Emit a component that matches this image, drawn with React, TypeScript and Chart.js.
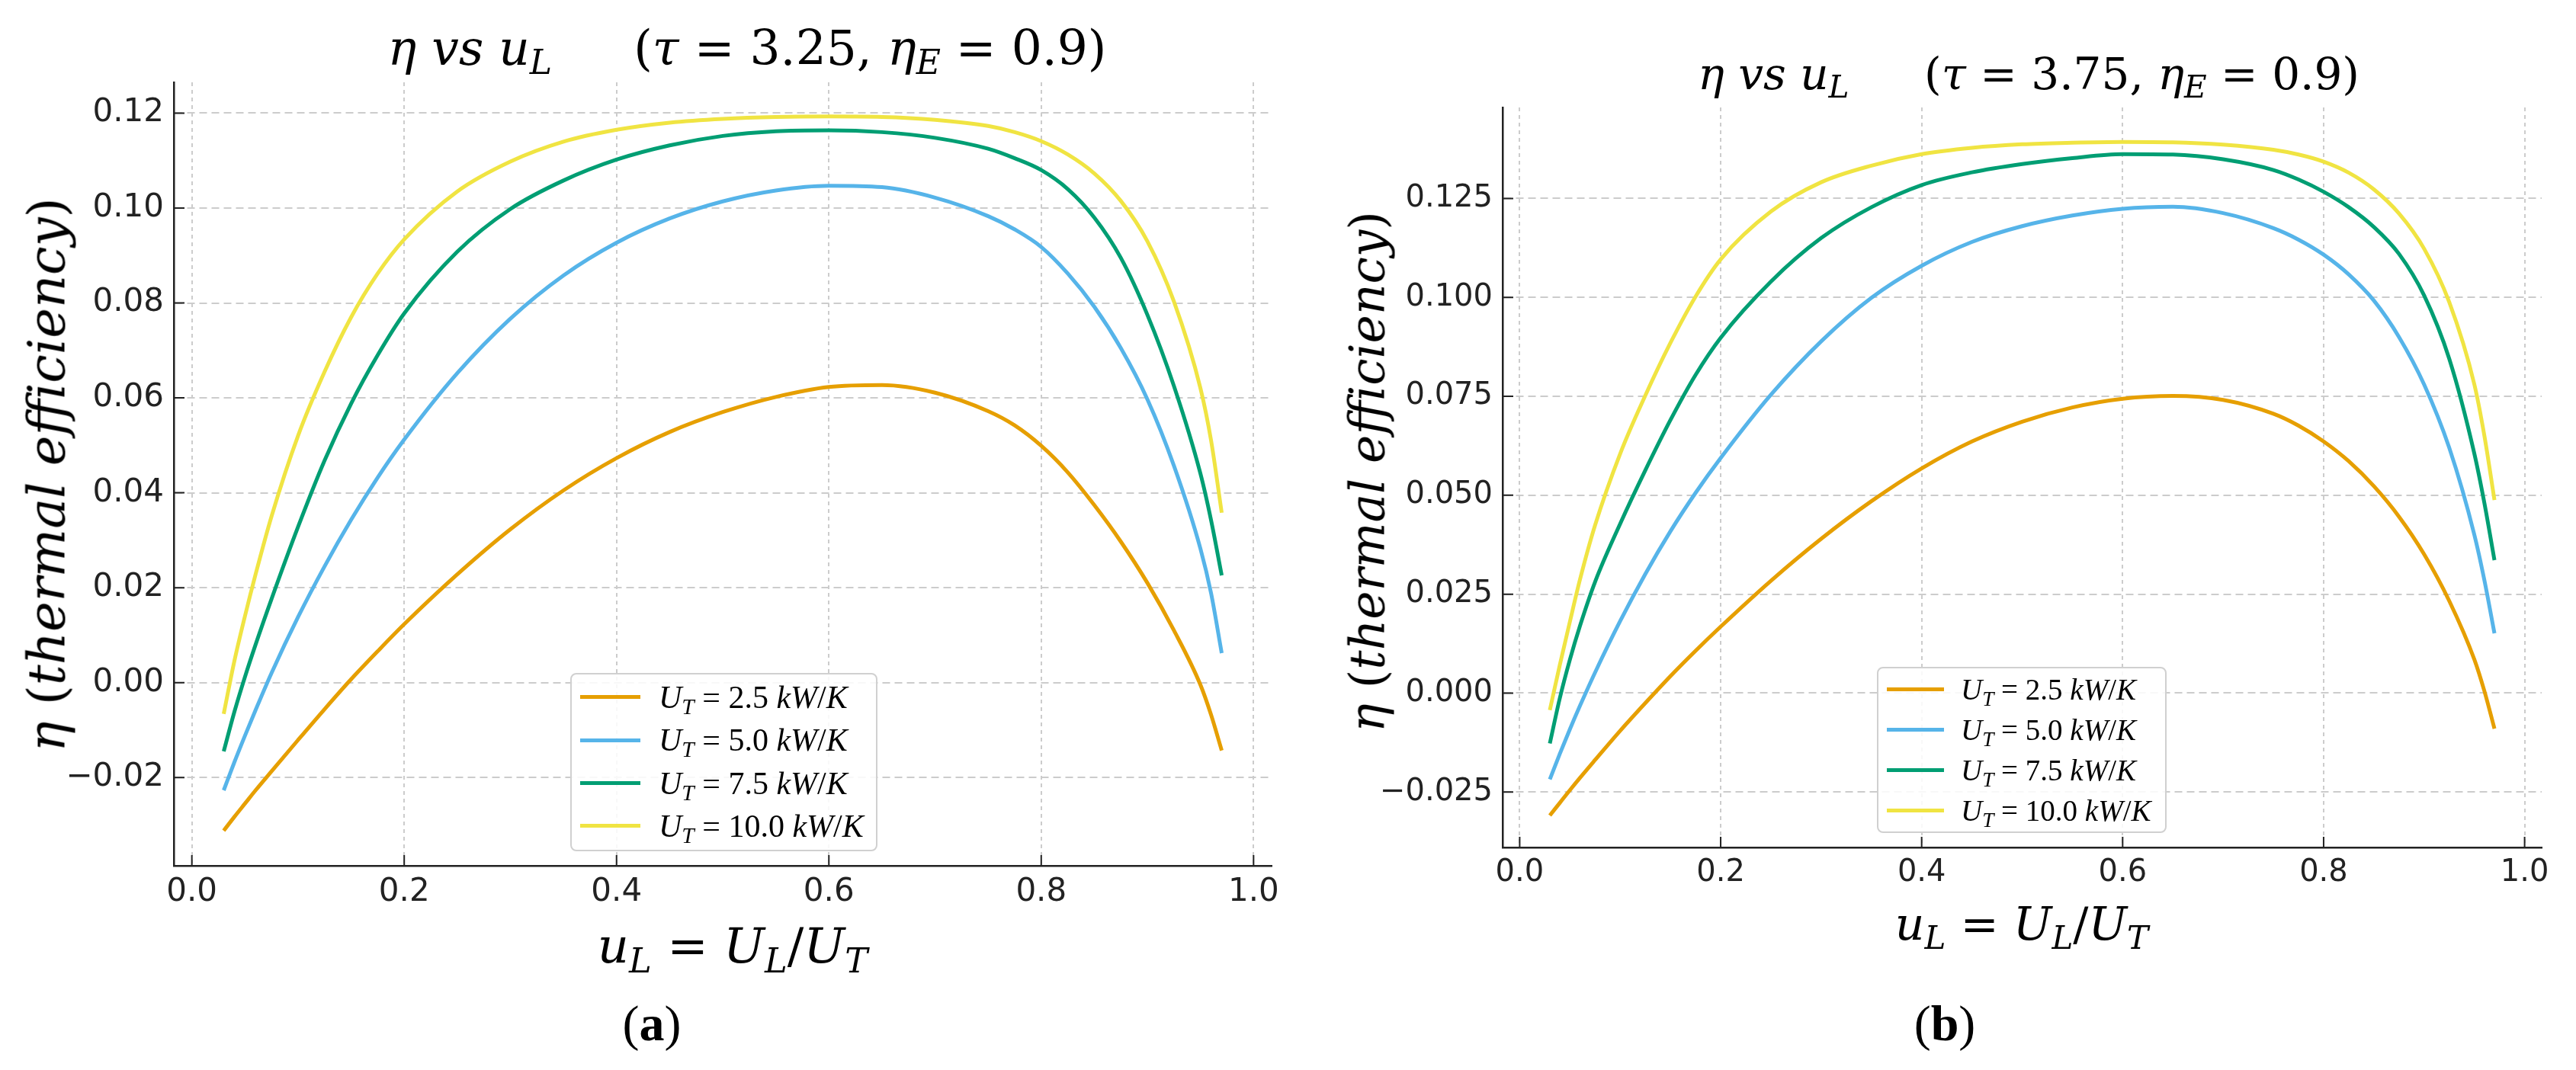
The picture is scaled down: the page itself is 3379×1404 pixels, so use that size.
import { useEffect, useRef } from "react"
import Chart from "chart.js/auto"

// u_L = U_L / U_T sample points (shared by every curve)
const U_L = [
  0.03, 0.04, 0.05, 0.06, 0.075, 0.1, 0.125, 0.15, 0.175, 0.2, 0.25, 0.3, 0.35, 0.4, 0.45, 0.5,
  0.55, 0.6, 0.65, 0.7, 0.75, 0.775, 0.8, 0.825, 0.85, 0.875, 0.9, 0.925, 0.95, 0.96, 0.97,
]

const UT_VALUES = ["2.5", "5.0", "7.5", "10.0"]

// panel (a): tau = 3.25
const ETA_A_25 = [
  -0.0312, -0.0283, -0.0255, -0.0227, -0.0187, -0.0121, -0.0056, 0.0007, 0.0066, 0.0123, 0.0228,
  0.0323, 0.0405, 0.0473, 0.0528, 0.057, 0.0602, 0.0623, 0.0627, 0.0611, 0.0572, 0.0542, 0.0499,
  0.0443, 0.0374, 0.0297, 0.021, 0.011, -0.0005, -0.0068, -0.0143,
]
const ETA_A_50 = [
  -0.0227, -0.0168, -0.0112, -0.0058, 0.002, 0.0138, 0.0245, 0.0343, 0.0432, 0.0512, 0.0652,
  0.0767, 0.0858, 0.0927, 0.0978, 0.1014, 0.1037, 0.1047, 0.1044, 0.1022, 0.0983, 0.0955, 0.0918,
  0.0862, 0.0792, 0.0705, 0.0597, 0.0457, 0.0282, 0.0188, 0.0062,
]
const ETA_A_75 = [
  -0.0145, -0.0062, 0.0012, 0.008, 0.0176, 0.0328, 0.0468, 0.0588, 0.069, 0.0778, 0.0908, 0.0998,
  0.1058, 0.1102, 0.1132, 0.1152, 0.1162, 0.1164, 0.116, 0.1148, 0.1125, 0.1105, 0.108, 0.104,
  0.098, 0.0895, 0.0775, 0.0625, 0.044, 0.0342, 0.0226,
]
const ETA_A_100 = [
  -0.0066, 0.0045, 0.014, 0.0228, 0.035, 0.052, 0.0655, 0.077, 0.0862, 0.0934, 0.1035, 0.1098,
  0.114, 0.1165, 0.118, 0.1188, 0.1192, 0.1193, 0.1192, 0.1186, 0.1173, 0.116, 0.1141, 0.1113,
  0.1073, 0.1015, 0.093, 0.0803, 0.062, 0.051, 0.0358,
]

// panel (b): tau = 3.75
const ETA_B_25 = [
  -0.0309, -0.0277, -0.0245, -0.0214, -0.0169, -0.0095, -0.0025, 0.0043, 0.0107, 0.0168, 0.0284,
  0.039, 0.0485, 0.0568, 0.0636, 0.0686, 0.0722, 0.0744, 0.0751, 0.0741, 0.0706, 0.0676, 0.0636,
  0.0586, 0.0523, 0.0446, 0.0351, 0.0233, 0.0085, 0.0005, -0.009,
]
const ETA_B_50 = [
  -0.0218, -0.0153, -0.0091, -0.0032, 0.0052, 0.0182, 0.0301, 0.0409, 0.0506, 0.0594, 0.0754,
  0.0889, 0.0999, 0.108, 0.114, 0.118, 0.1207, 0.1224, 0.1229, 0.1213, 0.1175, 0.1146, 0.1108,
  0.1058, 0.0992, 0.09, 0.078, 0.062, 0.04, 0.0285, 0.0151,
]
const ETA_B_75 = [
  -0.0127, -0.0012, 0.0085, 0.017, 0.0281, 0.0428, 0.0563, 0.069, 0.0804, 0.0898, 0.104, 0.115,
  0.1228, 0.1284, 0.1316, 0.1337, 0.1352, 0.1362, 0.1361, 0.1349, 0.1322, 0.1298, 0.1267, 0.1228,
  0.1178, 0.111, 0.1005, 0.0845, 0.0605, 0.048, 0.0336,
]
const ETA_B_100 = [
  -0.0043, 0.0072, 0.0181, 0.0287, 0.0424, 0.0605, 0.0752, 0.0885, 0.1002, 0.1096, 0.1217,
  0.1291, 0.1333, 0.1362, 0.1378, 0.1387, 0.1391, 0.1393, 0.1392, 0.1386, 0.1373, 0.1361, 0.1343,
  0.1315, 0.1273, 0.1212, 0.1123, 0.0988, 0.078, 0.065, 0.0488,
]

const X_TICKS = [0, 0.2, 0.4, 0.6, 0.8, 1.0]
const Y_TICKS_A = [-0.02, 0, 0.02, 0.04, 0.06, 0.08, 0.1, 0.12]
const Y_TICKS_B = [-0.025, 0, 0.025, 0.05, 0.075, 0.1, 0.125]

const COLORS = ["#E69F00", "#56B4E9", "#009E73", "#F0E442"]
const MATH_FONT = "'DejaVu Serif', serif"

function fmt(v: number, digits: number) {
  const s = Math.abs(v).toFixed(digits)
  return v < -1e-9 ? "\u2212" + s : s
}

// matplotlib-style ticks pointing into the plot
const inwardTicks = {
  id: "inwardTicks",
  afterDraw(chart: any) {
    const { ctx, chartArea, scales } = chart
    ctx.save()
    ctx.strokeStyle = "#222"
    ctx.lineWidth = 2
    ctx.beginPath()
    scales.x.ticks.forEach((t: any) => {
      const px = scales.x.getPixelForValue(t.value)
      ctx.moveTo(px, chartArea.bottom)
      ctx.lineTo(px, chartArea.bottom - 14)
    })
    scales.y.ticks.forEach((t: any) => {
      const py = scales.y.getPixelForValue(t.value)
      ctx.moveTo(chartArea.left, py)
      ctx.lineTo(chartArea.left + 14, py)
    })
    ctx.stroke()
    ctx.restore()
  },
}

type PanelProps = {
  series: number[][]
  yMin: number
  yMax: number
  yTicks: number[]
  yDigits: number
  left: number
  width: number
  height: number
  padTop: number
  padRight: number
  yAxisWidth: number
  xAxisHeight: number
  tickSize: number
}

function EfficiencyPanel(p: PanelProps) {
  const chartRef = useRef<HTMLCanvasElement>(null)

  useEffect(() => {
    if (!chartRef.current) return
    const tickFont = { family: "'DejaVu Sans', sans-serif", size: p.tickSize }

    const chart = new Chart(chartRef.current, {
      type: "line",
      data: {
        datasets: p.series.map((values, i) => ({
          label: `U_T = ${UT_VALUES[i]} kW/K`,
          data: U_L.map((x, j) => ({ x, y: values[j] })),
          borderColor: COLORS[i],
          borderWidth: 5,
          pointRadius: 0,
          fill: false,
          cubicInterpolationMode: "monotone" as const,
          order: p.series.length - i,
        })),
      },
      options: {
        responsive: false,
        animation: false,
        devicePixelRatio: 1,
        layout: { padding: { left: 0, top: p.padTop, right: p.padRight, bottom: 0 } },
        plugins: {
          legend: { display: false },
          tooltip: { enabled: false },
        },
        scales: {
          x: {
            type: "linear",
            min: -0.017,
            max: 1.017,
            afterBuildTicks: (axis: any) => {
              axis.ticks = X_TICKS.map((value) => ({ value }))
            },
            afterFit: (axis: any) => {
              axis.height = p.xAxisHeight
            },
            ticks: {
              callback: (v: any) => fmt(Number(v), 1),
              font: tickFont,
              color: "#222",
              padding: 10,
              maxRotation: 0,
              autoSkip: false,
            },
            grid: { color: "#cccccc", lineWidth: 2, drawTicks: false },
            border: { display: true, color: "#222", width: 2.5, dash: [5, 5] },
          },
          y: {
            type: "linear",
            min: p.yMin,
            max: p.yMax,
            afterBuildTicks: (axis: any) => {
              axis.ticks = p.yTicks.map((value) => ({ value }))
            },
            afterFit: (axis: any) => {
              axis.width = p.yAxisWidth
            },
            ticks: {
              callback: (v: any) => fmt(Number(v), p.yDigits),
              font: tickFont,
              color: "#222",
              padding: 13,
              autoSkip: false,
            },
            grid: { color: "#cccccc", lineWidth: 2, drawTicks: false },
            border: { display: true, color: "#222", width: 2.5, dash: [10, 6] },
          },
        },
      },
      plugins: [inwardTicks],
    })

    return () => {
      chart.destroy()
    }
  }, [])

  return (
    <canvas
      ref={chartRef}
      width={p.width}
      height={p.height}
      style={{ position: "absolute", left: p.left, top: 0, width: p.width, height: p.height }}
    />
  )
}

const Sub = ({ children }: { children: any }) => (
  <span style={{ fontSize: "0.7em", verticalAlign: "-0.28em", lineHeight: 0 }}>{children}</span>
)
const I = ({ children }: { children: any }) => <span style={{ fontStyle: "italic" }}>{children}</span>

function Legend(props: {
  left: number
  top: number
  width: number
  height: number
  firstRow: number
  rowGap: number
  lineLen: number
  textLeft: number
  fontSize: number
}) {
  return (
    <div
      style={{
        position: "absolute",
        left: props.left,
        top: props.top,
        width: props.width,
        height: props.height,
        boxSizing: "border-box",
        border: "2px solid #d0d0d0",
        borderRadius: 8,
        background: "rgba(255,255,255,0.85)",
        fontFamily: "'Liberation Serif', serif",
        fontSize: props.fontSize,
      }}
    >
      {UT_VALUES.map((v, i) => (
        <div
          key={v}
          style={{
            position: "absolute",
            left: 0,
            top: props.firstRow + i * props.rowGap - props.rowGap / 2,
            height: props.rowGap,
            width: "100%",
            display: "flex",
            alignItems: "center",
            lineHeight: 1,
            whiteSpace: "nowrap",
          }}
        >
          <div
            style={{
              position: "absolute",
              left: 11,
              width: props.lineLen,
              height: 5,
              background: COLORS[i],
            }}
          />
          <span style={{ position: "absolute", left: props.textLeft }}>
            <I>U</I>
            <Sub>
              <I>T</I>
            </Sub>{" "}
            = {v} <I>kW</I>/<I>K</I>
          </span>
        </div>
      ))}
    </div>
  )
}

function Title({ center, top, size, tau }: { center: number; top: number; size: number; tau: string }) {
  return (
    <div
      style={{
        position: "absolute",
        left: center - 800,
        width: 1600,
        top,
        textAlign: "center",
        fontFamily: MATH_FONT,
        fontSize: size,
        lineHeight: 1,
        whiteSpace: "nowrap",
        color: "#000",
      }}
    >
      <I>η</I> <I>vs</I> <I>u</I>
      <Sub>
        <I>L</I>
      </Sub>
      <span style={{ marginLeft: size * 1.7 }}>
        (<I>τ</I> = {tau}, <I>η</I>
        <Sub>
          <I>E</I>
        </Sub>{" "}
        = 0.9)
      </span>
    </div>
  )
}

function XLabel({ center, top, size }: { center: number; top: number; size: number }) {
  return (
    <div
      style={{
        position: "absolute",
        left: center - 500,
        width: 1000,
        top,
        textAlign: "center",
        fontFamily: MATH_FONT,
        fontSize: size,
        lineHeight: 1,
        whiteSpace: "nowrap",
      }}
    >
      <I>u</I>
      <Sub>
        <I>L</I>
      </Sub>{" "}
      = <I>U</I>
      <Sub>
        <I>L</I>
      </Sub>
      /<I>U</I>
      <Sub>
        <I>T</I>
      </Sub>
    </div>
  )
}

function YLabel({ cx, cy, size }: { cx: number; cy: number; size: number }) {
  return (
    <div
      style={{
        position: "absolute",
        left: cx,
        top: cy,
        transform: "translate(-50%, -50%) rotate(-90deg)",
        fontFamily: MATH_FONT,
        fontSize: size,
        lineHeight: 1,
        whiteSpace: "nowrap",
      }}
    >
      <I>η</I> (<I>thermal efficiency</I>)
    </div>
  )
}

function Caption({ center, letter }: { center: number; letter: string }) {
  return (
    <div
      style={{
        position: "absolute",
        left: center - 200,
        width: 400,
        top: 1310,
        textAlign: "center",
        fontFamily: "'Liberation Serif', serif",
        fontSize: 66,
        lineHeight: 1,
      }}
    >
      (<b>{letter}</b>)
    </div>
  )
}

export default function App() {
  return (
    <div
      style={{
        position: "absolute",
        left: 0,
        top: 0,
        width: 3379,
        height: 1404,
        background: "#fff",
        overflow: "hidden",
      }}
    >
      <EfficiencyPanel
        series={[ETA_A_25, ETA_A_50, ETA_A_75, ETA_A_100]}
        yMin={-0.0386}
        yMax={0.1265}
        yTicks={Y_TICKS_A}
        yDigits={2}
        left={0}
        width={1700}
        height={1240}
        padTop={108}
        padRight={32}
        yAxisWidth={228}
        xAxisHeight={104}
        tickSize={42}
      />
      <EfficiencyPanel
        series={[ETA_B_25, ETA_B_50, ETA_B_75, ETA_B_100]}
        yMin={-0.039}
        yMax={0.148}
        yTicks={Y_TICKS_B}
        yDigits={3}
        left={1700}
        width={1679}
        height={1240}
        padTop={141}
        padRight={45}
        yAxisWidth={271}
        xAxisHeight={128}
        tickSize={40}
      />

      <Title center={980} top={32} size={63} tau="3.25" />
      <Title center={2661} top={68} size={58} tau="3.75" />

      <XLabel center={961} top={1209} size={64} />
      <XLabel center={2652} top={1182} size={60} />

      <YLabel cx={62} cy={623} size={67} />
      <YLabel cx={1794} cy={619} size={63} />

      <Legend
        left={748}
        top={883}
        width={403}
        height={234}
        firstRow={30}
        rowGap={56.3}
        lineLen={79}
        textLeft={114}
        fontSize={42}
      />
      <Legend
        left={2462}
        top={875}
        width={380}
        height={218}
        firstRow={27}
        rowGap={53}
        lineLen={75}
        textLeft={108}
        fontSize={39}
      />

      <Caption center={855} letter="a" />
      <Caption center={2551} letter="b" />
    </div>
  )
}
